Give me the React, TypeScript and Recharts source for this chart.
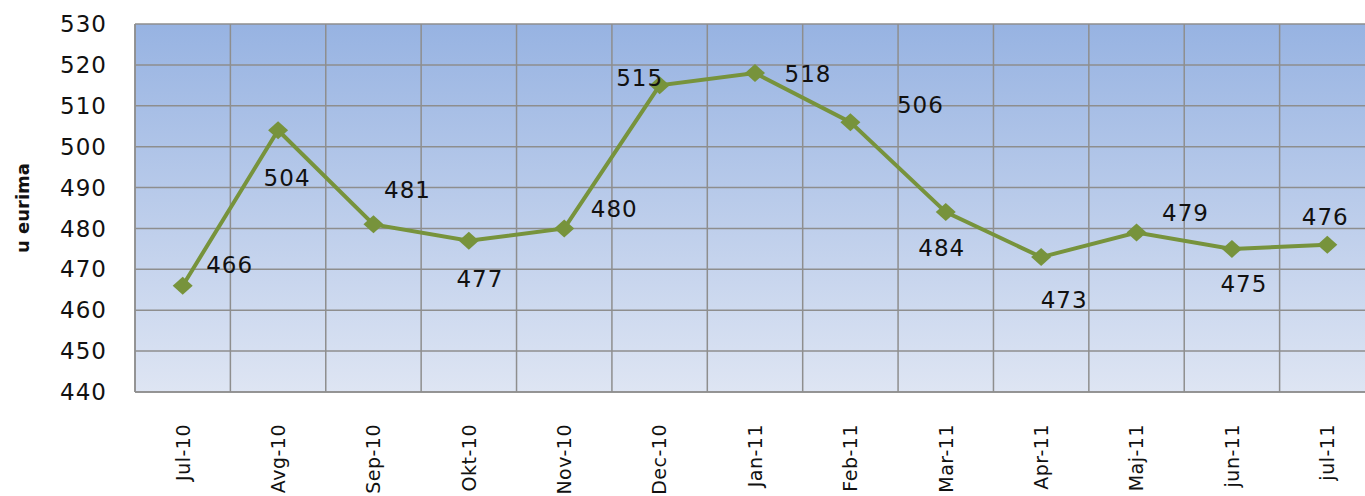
import React from 'react';
import { LineChart, Line, XAxis, YAxis, CartesianGrid, LabelList } from 'recharts';

const categories = ['Jul-10', 'Avg-10', 'Sep-10', 'Okt-10', 'Nov-10', 'Dec-10', 'Jan-11', 'Feb-11', 'Mar-11', 'Apr-11', 'Maj-11', 'jun-11', 'jul-11'];
const prices = [466, 504, 481, 477, 480, 515, 518, 506, 484, 473, 479, 475, 476];
const yTicks = [440, 450, 460, 470, 480, 490, 500, 510, 520, 530];
const yLabel = 'u eurima';
// label offsets relative to each point (dx, dy)
const labelDx = [47, 9, 34, 11, 50, -20, 53, 70, -4, 23, 49, 12, -2];
const labelDy = [-21, 47, -35, 38, -20, -8, 1, -17, 36, 43, -20, 35, -28];

const data = categories.map((c, i) => ({ name: c, value: prices[i] }));

const FONT = '"DejaVu Sans", Verdana, sans-serif';
const LINE = '#77933C';
const GRID = '#8e8e8e';

const Diamond = (props: any) => {
  const { cx, cy } = props;
  if (cx == null || cy == null) return null;
  const w = 10, h = 9;
  return <polygon points={`${cx},${cy - h} ${cx + w},${cy} ${cx},${cy + h} ${cx - w},${cy}`} fill={LINE} />;
};

const XTick = (props: any) => {
  const { x, y, payload } = props;
  return (
    <g transform={`translate(${x},${y})`}>
      <text transform="rotate(-90)" x={-24} y={0} dy="0.36em" textAnchor="end" fontFamily={FONT} fontSize={19} letterSpacing={0.5} fill="#111">
        {payload.value}
      </text>
    </g>
  );
};

const PointLabel = (props: any) => {
  const { x, y, index, value } = props;
  return (
    <text x={x + labelDx[index]} y={y + labelDy[index]} dy="0.36em" textAnchor="middle" fontFamily={FONT} fontSize={23} letterSpacing={1} fill="#111">
      {value}
    </text>
  );
};

export default function App() {
  return (
    <div style={{ position: 'absolute', left: 0, top: 0, width: 1365, height: 496, overflow: 'hidden', background: '#fff' }}>
      <LineChart width={1380} height={496} data={data} margin={{ top: 24, right: 5, bottom: 0, left: 0 }}>
        <defs>
          <linearGradient id="plotBg" x1="0" y1="0" x2="0" y2="1">
            <stop offset="0%" stopColor="#97B3E2" />
            <stop offset="100%" stopColor="#DEE5F3" />
          </linearGradient>
        </defs>
        <CartesianGrid
          stroke={GRID}
          strokeWidth={1.5}
          fill="url(#plotBg)"
          fillOpacity={1}
          verticalCoordinatesGenerator={({ offset }: any) =>
            Array.from({ length: categories.length + 1 }, (_, i) => offset.left + (i * offset.width) / categories.length)
          }
        />
        <XAxis
          dataKey="name"
          scale="band"
          height={104}
          axisLine={{ stroke: GRID, strokeWidth: 1.5 }}
          tickLine={false}
          interval={0}
          tick={<XTick />}
        />
        <YAxis
          width={135}
          domain={[440, 530]}
          ticks={yTicks}
          axisLine={{ stroke: GRID, strokeWidth: 1.5 }}
          tickLine={false}
          tickSize={6}
          tickMargin={22}
          tick={{ fontFamily: FONT, fontSize: 23, fill: '#111', letterSpacing: 1 }}
          label={{
            value: yLabel,
            content: ({ viewBox }: any) => {
              const cx = viewBox.x + 23;
              const cy = viewBox.y + viewBox.height / 2;
              return (
                <text x={cx} y={cy} dy="0.36em" transform={`rotate(-90, ${cx}, ${cy})`} textAnchor="middle" fontFamily={FONT} fontWeight="bold" fontSize={18} fill="#111">
                  {yLabel}
                </text>
              );
            },
          }}
        />
        <Line
          type="linear"
          dataKey="value"
          stroke={LINE}
          strokeWidth={4}
          dot={<Diamond />}
          activeDot={false}
          isAnimationActive={false}
        >
          <LabelList dataKey="value" content={<PointLabel />} />
        </Line>
      </LineChart>
    </div>
  );
}
